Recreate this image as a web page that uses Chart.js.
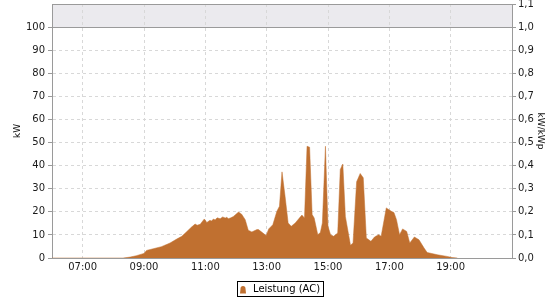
<!DOCTYPE html>
<html>
<head>
<meta charset="utf-8">
<script src="https://cdn.jsdelivr.net/npm/chart.js@4"></script>
<style>
  html, body { margin: 0; padding: 0; background: #fff; }
  #wrap { width: 560px; height: 300px; position: relative; }
</style>
</head>
<body>
<div id="wrap"><canvas id="c" width="560" height="300"></canvas></div>
<script>
// ---- data ----
const times = ['06:00','08:19','08:33','08:45','09:00','09:05','09:18','09:34','09:51','10:04','10:14','10:24','10:33','10:40','10:44','10:50','10:58','11:03','11:09','11:12','11:16','11:19','11:23','11:29','11:34','11:39','11:42','11:45','11:50','11:55','12:05','12:11','12:18','12:24','12:31','12:41','12:44','12:59','13:04','13:12','13:20','13:25','13:30','13:36','13:42','13:48','13:56','14:04','14:09','14:14','14:19','14:24','14:29','14:33','14:40','14:45','14:49','14:55','15:00','15:05','15:11','15:19','15:24','15:29','15:34','15:44','15:49','15:56','16:03','16:09','16:15','16:24','16:31','16:39','16:44','16:54','17:04','17:09','17:14','17:20','17:26','17:34','17:40','17:49','17:58','18:08','18:14','18:34','18:53','19:03','19:13'];
const leistungAC = [0,0,0.4,1.0,2.0,3.3,4.0,4.9,6.5,8.2,9.4,11.5,13.4,14.7,14.2,14.6,16.9,15.4,16.3,16.0,16.9,16.5,17.4,17.0,17.8,17.3,17.7,17.0,17.4,18.0,19.9,19.0,16.6,12.0,11.3,12.3,12.3,9.7,12.6,14.4,20.2,22.4,37.3,26.7,15.2,13.7,15.2,17.3,18.6,17.3,48.4,48.0,18.8,17.3,10.1,11.0,15.2,48.4,13.7,10.1,9.4,10.8,38.3,40.7,18.0,5.5,6.5,33.0,36.6,34.7,8.7,7.2,9.1,10.1,9.4,21.7,20.2,19.7,16.6,10.1,12.6,11.5,6.5,9.1,7.9,4.3,2.4,1.4,0.7,0.2,0];
const xTickLabels = ['07:00','09:00','11:00','13:00','15:00','17:00','19:00'];
const xRange = ['06:00','21:00'];
const seriesLabel = 'Leistung (AC)';
const leftAxisTitle = 'kW';
const rightAxisTitle = 'kW/kWp';
const kwp = 100; // kW per 1,0 kW/kWp

const toMin = s => { const [h, m] = s.split(':').map(Number); return h * 60 + m; };
const xTickValues = xTickLabels.map(toMin);
const points = times.map((t, i) => ({ x: toMin(t), y: leistungAC[i] }));

const FILL = 'rgb(192,112,48)';
const AXIS = '#9a9a9a';
const GRID = '#d8d8d8';
const FONT = 'DejaVu Sans';

const bandPlugin = {
  id: 'band',
  beforeDraw(chart) {
    const { ctx, chartArea, scales } = chart;
    const y = scales.y;
    const yTop = y.getPixelForValue(y.max);
    const y100 = y.getPixelForValue(100);
    ctx.save();
    ctx.fillStyle = '#ebeaee';
    ctx.fillRect(chartArea.left, yTop, chartArea.right - chartArea.left, y100 - yTop);
    ctx.restore();
  },
  afterDraw(chart) {
    const { ctx, chartArea, scales } = chart;
    const y = scales.y;
    const y100 = Math.round(y.getPixelForValue(100)) + 0.5;
    const yTop = Math.round(y.getPixelForValue(y.max)) + 0.5;
    ctx.save();
    ctx.strokeStyle = AXIS;
    ctx.lineWidth = 1;
    ctx.beginPath();
    ctx.moveTo(chartArea.left, y100); ctx.lineTo(chartArea.right, y100);
    ctx.moveTo(chartArea.left, yTop); ctx.lineTo(chartArea.right, yTop);
    ctx.stroke();

    // legend
    const label = chart.data.datasets[0].label;
    ctx.font = '10px "' + FONT + '"';
    const tw = ctx.measureText(label).width;
    const w = 2 + 6 + 7 + tw + 4;
    const cx = chart.width / 2;
    const bx = Math.round(cx - w / 2) + 0.5;
    const by = 281.5;
    ctx.strokeStyle = '#000';
    ctx.strokeRect(bx, by, Math.round(w), 15);
    // icon
    const ix = bx + 2.5;
    ctx.fillStyle = chart.data.datasets[0].backgroundColor;
    ctx.beginPath();
    ctx.moveTo(ix, by + 12);
    ctx.lineTo(ix + 0.5, by + 7.5);
    ctx.arc(ix + 3, by + 7, 2.5, Math.PI, 0);
    ctx.lineTo(ix + 6, by + 12);
    ctx.closePath();
    ctx.fill();
    ctx.fillStyle = '#000';
    ctx.textBaseline = 'middle';
    ctx.textAlign = 'left';
    ctx.fillText(label, ix + 13, by + 8);
    ctx.restore();
  }
};

new Chart(document.getElementById('c'), {
  type: 'line',
  data: {
    datasets: [{
      label: seriesLabel,
      data: points,
      yAxisID: 'y',
      backgroundColor: FILL,
      borderColor: FILL,
      borderWidth: 0.5,
      fill: 'origin',
      pointRadius: 0,
      tension: 0
    }]
  },
  options: {
    responsive: false,
    animation: false,
    layout: { padding: { top: 4, left: 0, right: 0, bottom: 0 } },
    plugins: { legend: { display: false }, tooltip: { enabled: false } },
    scales: {
      x: {
        type: 'linear',
        min: toMin(xRange[0]),
        max: toMin(xRange[1]),
        afterBuildTicks(scale) { scale.ticks = xTickValues.map(v => ({ value: v })); },
        afterFit(scale) { scale.height = 42; scale.paddingLeft = 0; scale.paddingRight = 0; },
        ticks: {
          autoSkip: false, maxRotation: 0, padding: 3,
          color: '#1a1a1a', font: { family: FONT, size: 10 },
          callback: v => { const i = xTickValues.indexOf(v); return i >= 0 ? xTickLabels[i] : ''; }
        },
        grid: { color: GRID, drawTicks: false },
        border: { color: AXIS, dash: [3, 3] }
      },
      y: {
        position: 'left',
        min: 0, max: 110,
        afterFit(scale) { scale.width = 52; scale.paddingTop = 0; scale.paddingBottom = 0; },
        ticks: {
          stepSize: 10, padding: 3,
          color: '#1a1a1a', font: { family: FONT, size: 10 },
          callback: v => (v >= 110 ? '' : String(v))
        },
        grid: {
          color: c => (c.tick && c.tick.value >= 100 ? 'rgba(0,0,0,0)' : GRID),
          tickColor: c => (c.tick && c.tick.value >= 110 ? 'rgba(0,0,0,0)' : AXIS),
          tickLength: 4
        },
        border: { color: AXIS, dash: [3, 3] },
        title: {
          display: true, text: leftAxisTitle, color: '#111',
          font: { family: FONT, size: 9 }, padding: { top: 12, bottom: 0 }
        }
      },
      y2: {
        position: 'right',
        min: 0, max: 110 / kwp,
        afterFit(scale) { scale.width = 48; scale.paddingTop = 0; scale.paddingBottom = 0; },
        ticks: {
          stepSize: 0.1, padding: 2,
          color: '#1a1a1a', font: { family: FONT, size: 10 },
          callback: v => v.toFixed(1).replace('.', ',')
        },
        grid: { drawOnChartArea: false, tickColor: AXIS, tickLength: 4 },
        border: { color: AXIS },
        title: {
          display: true, text: rightAxisTitle, color: '#111',
          font: { family: FONT, size: 9 }, padding: { top: 14, bottom: 0 }
        }
      }
    }
  },
  plugins: [bandPlugin]
});
</script>
</body>
</html>
